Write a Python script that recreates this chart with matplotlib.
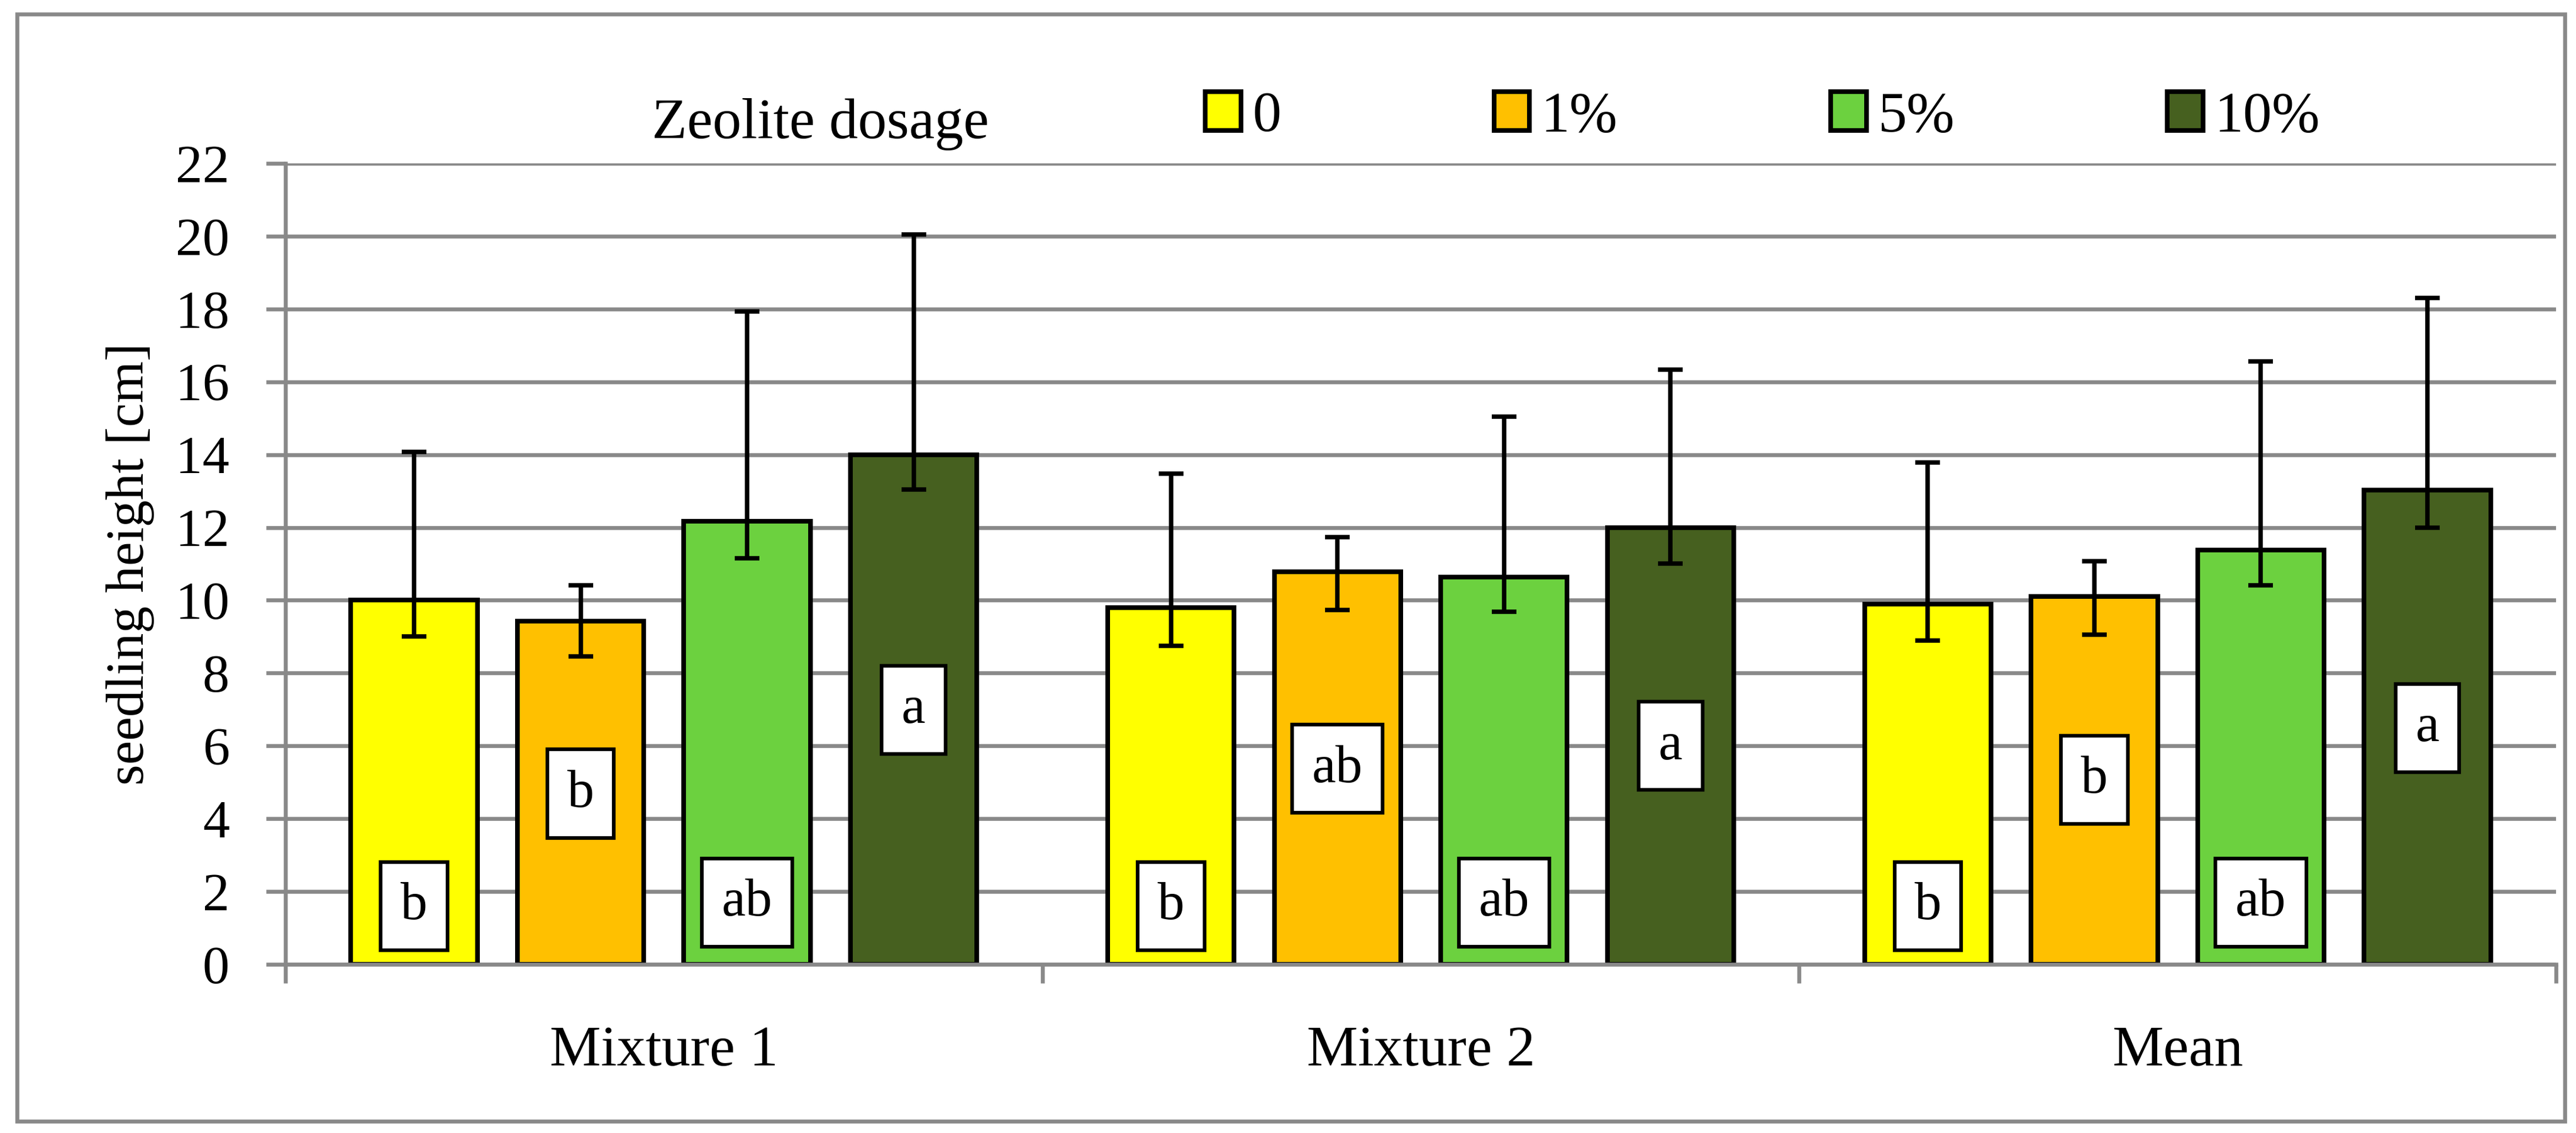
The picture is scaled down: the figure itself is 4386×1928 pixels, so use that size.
import matplotlib
matplotlib.use("Agg")
import matplotlib.pyplot as plt
import numpy as np
from matplotlib.patches import Rectangle

plt.rcParams['font.family'] = ['Liberation Serif', 'DejaVu Serif']

# data
groups = ["Mixture 1", "Mixture 2", "Mean"]
dosages = ["0", "1%", "5%", "10%"]
colors = ["#FFFF00", "#FFC000", "#6CD13F", "#46601F"]

height_0 = [10.0, 9.8, 9.9]
height_1 = [9.42, 10.78, 10.1]
height_5 = [12.17, 10.63, 11.38]
height_10 = [14.0, 12.0, 13.03]

err_up_0 = [4.07, 3.67, 3.88]
err_up_1 = [0.99, 0.96, 0.97]
err_up_5 = [5.76, 4.42, 5.18]
err_up_10 = [6.05, 4.33, 5.27]

err_lo_0 = [0.99, 1.05, 1.01]
err_lo_1 = [0.97, 1.05, 1.04]
err_lo_5 = [1.02, 0.94, 0.97]
err_lo_10 = [0.96, 1.0, 1.04]

letters_0 = ["b", "b", "b"]
letters_1 = ["b", "ab", "b"]
letters_5 = ["ab", "ab", "ab"]
letters_10 = ["a", "a", "a"]

# where the letter boxes sit (cm)
letter_y_0 = [1.6, 1.6, 1.6]
letter_y_1 = [4.69, 5.37, 5.07]
letter_y_5 = [1.7, 1.7, 1.7]
letter_y_10 = [6.99, 6.0, 6.49]

heights = [height_0, height_1, height_5, height_10]
err_up = [err_up_0, err_up_1, err_up_5, err_up_10]
err_lo = [err_lo_0, err_lo_1, err_lo_5, err_lo_10]
letters = [letters_0, letters_1, letters_5, letters_10]
letter_y = [letter_y_0, letter_y_1, letter_y_5, letter_y_10]

W, H = 4386, 1928
grey = "#898989"

fig = plt.figure(figsize=(W / 300, H / 300), dpi=300)
ax = fig.add_axes([486 / W, 1 - 1641 / H, (4352 - 486) / W, (1641 - 278) / H])

centers = np.arange(len(groups)) + 0.5
offsets = [-0.33, -0.11, 0.11, 0.33]
bar_w = 0.167

for i in range(len(dosages)):
    x = centers + offsets[i]
    ax.bar(x, heights[i], width=bar_w, color=colors[i], edgecolor="black",
           linewidth=1.9, zorder=2, label=dosages[i])
    ax.errorbar(x, heights[i], yerr=[err_lo[i], err_up[i]], fmt="none",
                ecolor="black", elinewidth=1.8, capsize=5, capthick=1.8, zorder=3)
    for j in range(len(groups)):
        ax.text(x[j], letter_y[i][j], letters[i][j], ha="center", va="center",
                fontsize=22, zorder=4,
                bbox=dict(boxstyle="square,pad=0.37", fc="white", ec="black", lw=1.5))

ax.set_xlim(0, len(groups))
ax.set_ylim(0, 22)
ax.set_yticks(np.arange(0, 23, 2))
ax.set_xticks(np.arange(0, len(groups) + 1))
ax.set_xticklabels([])
ax.set_xticks(centers, minor=True)
ax.set_xticklabels(groups, minor=True, fontsize=23.5)

ax.yaxis.grid(True, color=grey, linewidth=1.6, zorder=0)
ax.set_axisbelow(True)
for s in ["top", "right"]:
    ax.spines[s].set_visible(False)
for s in ["left", "bottom"]:
    ax.spines[s].set_color(grey)
    ax.spines[s].set_linewidth(1.6)

ax.tick_params(axis="y", direction="out", length=7.9, width=1.6, color=grey,
               pad=15, labelsize=22)
ax.tick_params(axis="x", which="major", direction="out", length=7.7, width=1.6,
               color=grey)
ax.tick_params(axis="x", which="minor", length=0, pad=25)

fig.text(222 / W, 1 - 960 / H, "seedling height [cm]", rotation=90,
         ha="center", va="center", fontsize=22)

# legend line at the top
fig.text(1110 / W, 1 - 235 / H, "Zeolite dosage", ha="left", va="baseline",
         fontsize=23.5)
ax.legend(loc="center left", bbox_to_anchor=(2052 / W, 1 - 200 / H),
          bbox_transform=fig.transFigure, ncol=4, frameon=False, fontsize=23.5,
          handlelength=0.62, handleheight=0.66, handletextpad=0.2,
          columnspacing=3.7, borderpad=0, borderaxespad=0)

# outer frame
fig.patches.append(Rectangle((29 / W, 1 - 1908 / H), (4367 - 29) / W, (1908 - 24) / H,
                             transform=fig.transFigure, fill=False, ec=grey, lw=1.6))

fig.savefig("out.png", dpi=300)
